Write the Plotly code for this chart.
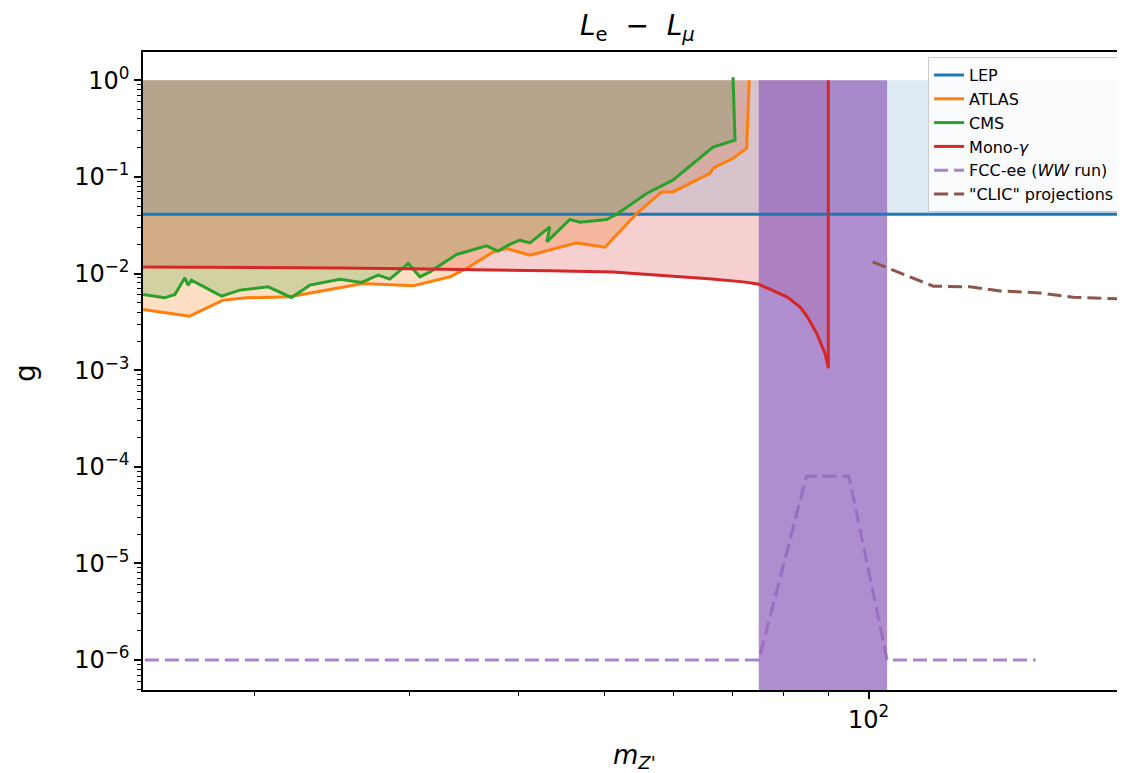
import plotly.graph_objects as go

# ---------------- data ----------------
lep_x = [14.0, 210.0]
lep_y = [0.041, 0.041]

atlas_x = [14.93, 16.87, 18.41, 19.58, 21.93, 26.58, 30.29, 33.38, 34.86, 37.38, 38.71,
           41.17, 46.52, 50.11, 54.45, 58.14, 59.87, 66.00, 66.52, 70.10, 72.66, 73.15]
atlas_y = [0.00425, 0.00362, 0.00531, 0.00561, 0.00574, 0.00790, 0.00746, 0.00925, 0.01129,
           0.01677, 0.01818, 0.01549, 0.02076, 0.01875, 0.04184, 0.0700, 0.0700, 0.1092,
           0.1230, 0.1560, 0.1982, 1.0]

cms_x = [14.93, 15.80, 16.23, 16.44, 16.66, 16.80, 16.95, 18.34, 19.24, 20.72, 22.03, 23.12,
         25.01, 26.47, 27.65, 28.51, 29.92, 30.85, 31.67, 33.96, 36.74, 37.86, 39.05, 40.10,
         41.17, 43.37, 43.03, 45.71, 46.93, 50.33, 51.68, 55.89, 59.87, 66.52, 70.47, 70.10]
cms_y = [0.00608, 0.00561, 0.00608, 0.00728, 0.00903, 0.00759, 0.00855, 0.00584, 0.00674,
         0.00728, 0.00566, 0.00759, 0.00875, 0.00809, 0.00962, 0.00875, 0.01271, 0.00925,
         0.01042, 0.01577, 0.01933, 0.01706, 0.02000, 0.02215, 0.02076, 0.03041, 0.02128,
         0.03624, 0.03404, 0.03624, 0.04113, 0.0674, 0.0925, 0.204, 0.240, 1.08]

mono_x = [14.93, 20.0, 25.0, 30.0, 36.1, 43.4, 51.2, 55.6, 61.0, 66.3, 72.0, 74.8, 77.8,
          80.8, 83.6, 85.3, 87.3, 88.5, 89.2, 90.0, 90.0]
mono_y = [0.0117, 0.0116, 0.0114, 0.0112, 0.0110, 0.0107, 0.0104, 0.0099, 0.0093, 0.0088,
          0.0082, 0.0078, 0.0067, 0.0057, 0.0045, 0.0035, 0.0024, 0.0018, 0.0015, 0.00105, 1.0]

fcc_x = [15.0, 75.0, 85.0, 95.0, 105.0, 155.0]
fcc_y = [1e-6, 1e-6, 8e-5, 8e-5, 1e-6, 1e-6]

band_x = [75.0, 105.0]
band_y = [1e-7, 1.0]

clic_x = [101.1, 118.5, 130.5, 141.2, 156.8, 171.0, 200.0]
clic_y = [0.0132, 0.0074, 0.0073, 0.0066, 0.0063, 0.0057, 0.0054]

top_y = 1.0

y_major_exp = [0, -1, -2, -3, -4, -5, -6]
x_major = [100]
x_minor = [20, 30, 40, 50, 60, 70, 80, 90, 200]
minor_mult = [2, 3, 4, 5, 6, 7, 8, 9]

# ---------------- colours ----------------
C_BLUE = '#1f77b4'
C_ORANGE = '#ff7f0e'
C_GREEN = '#2ca02c'
C_RED = '#d62728'
C_BROWN = '#8c564b'

fig = go.Figure()


def fill_to_top(x, y, color):
    xs = list(x) + [x[-1], x[0]]
    ys = list(y) + [top_y, top_y]
    fig.add_trace(go.Scatter(x=xs, y=ys, mode='lines', fill='toself', fillcolor=color,
                             line=dict(width=0), showlegend=False, hoverinfo='skip'))


# fills
fill_to_top(atlas_x, atlas_y, 'rgba(255,127,14,0.25)')
fill_to_top(cms_x, cms_y, 'rgba(44,160,44,0.22)')
fill_to_top(mono_x, mono_y, 'rgba(214,39,40,0.22)')
fig.add_trace(go.Scatter(x=[lep_x[0], lep_x[1], lep_x[1], lep_x[0]],
                         y=[lep_y[0], lep_y[1], top_y, top_y], mode='lines', fill='toself',
                         fillcolor='rgba(31,119,180,0.15)', line=dict(width=0),
                         showlegend=False, hoverinfo='skip'))
# purple band
fig.add_trace(go.Scatter(x=[band_x[0], band_x[1], band_x[1], band_x[0]],
                         y=[band_y[0], band_y[0], band_y[1], band_y[1]], mode='lines',
                         fill='toself', fillcolor='rgba(148,103,189,0.75)', line=dict(width=0),
                         showlegend=False, hoverinfo='skip'))

LW = 3
DASH = '14px,6px'
fig.add_trace(go.Scatter(x=lep_x, y=lep_y, mode='lines', name='LEP', legendgroup='a',
                         line=dict(color=C_BLUE, width=LW)))
fig.add_trace(go.Scatter(x=atlas_x, y=atlas_y, mode='lines', name='ATLAS', legendgroup='b',
                         line=dict(color=C_ORANGE, width=LW)))
fig.add_trace(go.Scatter(x=cms_x, y=cms_y, mode='lines', name='CMS', legendgroup='c',
                         line=dict(color=C_GREEN, width=LW)))
fig.add_trace(go.Scatter(x=mono_x, y=mono_y, mode='lines', name='Mono-<i>γ</i>',
                         legendgroup='d', line=dict(color=C_RED, width=LW)))
fig.add_trace(go.Scatter(x=fcc_x, y=fcc_y, mode='lines', name='FCC-ee (<i>WW</i> run)',
                         legendgroup='e',
                         line=dict(color='rgba(148,103,189,0.8)', width=LW, dash=DASH)))
fig.add_trace(go.Scatter(x=clic_x, y=clic_y, mode='lines', name='"CLIC" projections',
                         legendgroup='f', line=dict(color=C_BROWN, width=LW, dash=DASH)))

y_tickvals = [10.0 ** e for e in y_major_exp]
y_ticktext = ['10<sup>%s</sup>' % (str(e).replace('-', '−')) for e in y_major_exp]
y_minor = [m * 10.0 ** e for e in range(-7, 1) for m in minor_mult]

fig.update_xaxes(type='log', range=[1.174, 2.292], showgrid=False, zeroline=False,
                 showline=True, linecolor='black', linewidth=1.5, mirror=True,
                 ticks='outside', ticklen=7, tickwidth=1.5, tickcolor='black',
                 tickmode='array', tickvals=x_major, ticktext=['10<sup>2</sup>'],
                 tickfont=dict(size=24, color='black'),
                 minor=dict(tickmode='array', tickvals=x_minor, ticks='outside', ticklen=4,
                            tickwidth=1, tickcolor='black', showgrid=False))
fig.update_yaxes(type='log', range=[-6.31, 0.293], showgrid=False, zeroline=False,
                 showline=True, linecolor='black', linewidth=1.5,
                 ticks='outside', ticklen=7, tickwidth=1.5, tickcolor='black',
                 tickmode='array', tickvals=y_tickvals, ticktext=y_ticktext,
                 tickfont=dict(size=24, color='black'),
                 minor=dict(tickmode='array', tickvals=y_minor, ticks='outside', ticklen=4,
                            tickwidth=1, tickcolor='black', showgrid=False))

# page body has an 8px margin, so the figure is 8px smaller than the window
fig.update_layout(
    width=1117, height=765,
    margin=dict(l=135, r=0, t=44, b=83),
    plot_bgcolor='white', paper_bgcolor='white',
    font=dict(family='DejaVu Sans', color='black'),
    legend=dict(x=0.995, y=0.992, xanchor='right', yanchor='top',
                bgcolor='rgba(255,255,255,0.8)', bordercolor='#cccccc', borderwidth=1,
                tracegroupgap=0, font=dict(size=16, family='DejaVu Sans')),
    annotations=[
        dict(text='<i>L</i><sub>e</sub>  −  <i>L</i><sub><i>μ</i></sub>',
             xref='paper', yref='paper', x=0.504, y=1.039, showarrow=False,
             xanchor='center', yanchor='middle', font=dict(size=28)),
        dict(text='g', xref='paper', yref='paper', x=-0.119, y=0.497, showarrow=False,
             textangle=-90, xanchor='center', yanchor='middle', font=dict(size=28)),
        dict(text="<i>m</i><sub><i>Z'</i></sub>", xref='paper', yref='paper', x=0.5,
             y=-0.105, showarrow=False, xanchor='center', yanchor='middle',
             font=dict(size=26)),
    ],
)

fig.write_html('out.html')
